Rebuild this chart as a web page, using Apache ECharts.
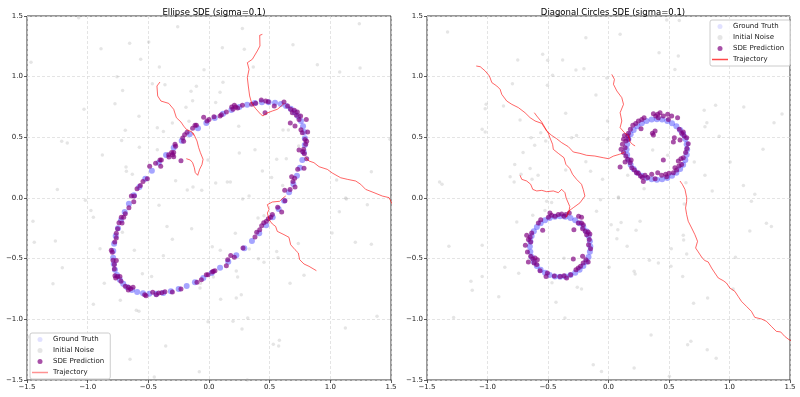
<!DOCTYPE html>
<html>
<head>
<meta charset="utf-8">
<script src="https://cdn.jsdelivr.net/npm/echarts@6/dist/echarts.min.js"></script>
<style>
  html, body { margin: 0; padding: 0; background: #fff; }
  #main { width: 800px; height: 397px; }
</style>
</head>
<body>
<div id="main"></div>
<script>
// tick values shared by both panels
var ticks = [-1.5, -1.0, -0.5, 0.0, 0.5, 1.0, 1.5];

// ---- Ellipse panel ----
var ellipseTruth = [
  [.707,.707],[.674,.735],[.635,.758],[.592,.775],[.544,.785],[.492,.790],[.436,.789],[.377,.782],[.314,.769],[.25,.75],
  [.184,.725],[.116,.695],[.047,.660],[-.022,.619],[-.091,.574],[-.159,.525],[-.225,.471],[-.291,.414],[-.354,.354],[-.414,.291],
  [-.471,.225],[-.525,.159],[-.574,.091],[-.619,.022],[-.660,-.047],[-.695,-.116],[-.725,-.184],[-.75,-.25],[-.769,-.314],[-.782,-.377],
  [-.789,-.436],[-.790,-.492],[-.785,-.544],[-.775,-.592],[-.758,-.635],[-.735,-.674],[-.707,-.707],[-.674,-.735],[-.635,-.758],[-.592,-.775],
  [-.544,-.785],[-.492,-.790],[-.436,-.789],[-.377,-.782],[-.314,-.769],[-.25,-.75],[-.184,-.725],[-.116,-.695],[-.047,-.660],[.022,-.619],
  [.091,-.574],[.159,-.525],[.225,-.471],[.291,-.414],[.354,-.354],[.414,-.291],[.471,-.225],[.525,-.159],[.574,-.091],[.619,-.022],
  [.660,.047],[.695,.116],[.725,.184],[.75,.25],[.769,.314],[.782,.377],[.789,.436],[.790,.492],[.785,.544],[.775,.592],
  [.758,.635],[.735,.674]
];

var ellipseNoise = [
  [-1.074,1.486],[-0.258,1.412],[-0.497,1.286],[-0.654,1.275],[-0.890,1.231],[-1.467,1.118],[-0.563,1.143],[-0.409,1.080],[-0.041,1.058],[-0.758,1.0],
  [-0.467,0.942],[-0.363,0.934],[-0.104,0.920],[-0.712,0.887],[-0.148,0.879],[-0.135,0.802],[-0.775,0.777],[-0.190,0.747],[-1.030,0.731],[-0.577,0.673],
  [-0.302,0.618],[-0.165,0.632],[-0.426,0.580],[-0.376,0.549],[-0.690,0.558],[-1.214,0.467],[-1.168,0.453],[-0.720,0.473],[-0.574,0.418],[-0.426,0.398],
  [-0.879,0.354],[-0.008,0.313],[-0.684,0.256],[-0.681,0.220],[-0.632,0.195],[-0.275,0.143],[-0.132,0.091],[-0.179,0.066],[-0.060,0.063],[-1.250,0.071],
  [0.275,1.398],[1.239,1.437],[0.110,1.239],[0.291,1.225],[0.692,1.264],[0.365,1.080],[0.893,1.099],[1.077,1.038],[1.245,1.071],[0.115,0.953],
  [0.091,0.871],[0.055,0.788],[0.245,0.591],[0.610,0.560],[0.654,0.560],[0.739,0.429],[1.492,0.484],[0.250,0.371],[0.379,0.398],[0.558,0.319],
  [0.637,0.324],[0.440,0.222],[0.516,0.168],[1.338,0.217],[1.052,0.148],[0.055,0.124],[0.151,0.132],[0.176,0.132],[0.607,0.104],[0.330,0.016],[1.126,0.0],
  [-1.019,-0.019],[-0.973,-0.104],[-1.451,-0.192],[-0.953,-0.159],[-0.412,-0.060],[-0.346,-0.234],[-0.143,-0.253],[-0.714,-0.283],[-1.440,-0.365],[-1.266,-0.354],
  [-0.898,-0.418],[-0.615,-0.431],[-0.302,-0.341],[-0.376,-0.475],[-1.209,-0.574],[-1.286,-0.706],[-0.863,-0.703],[-0.549,-0.624],[-0.473,-0.648],[-0.071,-0.703],
  [-0.074,-0.742],[-0.731,-0.843],[-0.953,-0.876],[-0.599,-0.926],[-0.577,-0.934],[-0.008,-1.019],[-1.492,-1.146],[-0.357,-1.220],[-0.651,-1.330],[-0.080,-1.431],[-0.451,-1.475],
  [0.277,-0.008],[1.132,-0.008],[1.305,-0.055],[1.074,-0.113],[0.453,-0.146],[0.404,-0.165],[0.217,-0.291],[1.014,-0.288],[0.027,-0.401],[0.093,-0.431],
  [0.332,-0.420],[0.558,-0.440],[0.736,-0.374],[1.206,-0.365],[1.338,-0.382],[0.569,-0.492],[0.407,-0.500],[0.453,-0.530],[0.225,-0.602],[0.236,-0.651],
  [0.036,-0.651],[0.783,-0.637],[0.668,-0.703],[0.266,-0.797],[0.225,-0.824],[0.096,-0.835],[0.319,-0.989],[0.198,-1.016],[0.272,-1.080],[1.385,-0.975],
  [1.124,-1.071],[0.580,-1.173],[0.530,-1.206],[0.574,-1.220],[0.316,-1.5]
];

var ellipsePred = [
  [-0.044,0.665],[-0.016,0.635],[-0.115,0.599],[-0.104,0.599],[-0.135,0.574],[-0.181,0.541],[-0.201,0.522],[-0.217,0.495],[-0.280,0.442],[-0.275,0.426],
  [-0.209,0.467],[-0.308,0.374],[-0.332,0.357],[-0.299,0.357],[-0.291,0.376],[-0.330,0.338],[-0.291,0.341],[-0.231,0.308],[-0.393,0.313],[-0.404,0.313],
  [-0.440,0.286],[-0.398,0.261],[-0.489,0.261],[-0.508,0.159],[-0.544,0.137],[-0.566,0.104],[-0.593,0.077],[-0.640,0.016],[-0.615,0.016],
  [0.041,0.670],[0.0,0.648],[0.102,0.687],[0.091,0.676],[0.143,0.709],[0.187,0.750],[0.220,0.750],[0.198,0.731],[0.236,0.742],[0.209,0.764],
  [0.275,0.764],[0.352,0.772],[0.385,0.780],[0.431,0.808],[0.467,0.799],[0.489,0.794],[0.462,0.703],[0.538,0.758],[0.618,0.791],[0.648,0.758],
  [0.673,0.731],[0.703,0.723],[0.687,0.703],[0.728,0.709],[0.720,0.681],[0.755,0.676],[0.742,0.648],[0.802,0.648],[0.670,0.618],[0.709,0.593],
  [0.758,0.563],[0.769,0.538],[0.813,0.544],[0.791,0.483],[0.805,0.467],[0.797,0.442],[0.742,0.396],[0.780,0.401],[0.786,0.365],[0.772,0.382],
  [0.805,0.324],[0.783,0.245],[0.731,0.236],[0.681,0.176],[0.706,0.162],[0.692,0.135],[0.709,0.091],[0.668,0.071],[0.624,0.063],
  [-0.62,-0.03],[-0.66,-0.08],[-0.69,-0.13],
  [-0.723,-0.159],[-0.703,-0.159],[-0.742,-0.203],[-0.717,-0.206],[-0.753,-0.253],[-0.764,-0.291],[-0.777,-0.363],[-0.764,-0.330],[-0.805,-0.431],[-0.797,-0.448],
  [-0.791,-0.514],[-0.780,-0.549],[-0.764,-0.516],[-0.780,-0.585],[-0.775,-0.640],[-0.753,-0.648],[-0.734,-0.646],[-0.769,-0.659],[-0.725,-0.687],[-0.690,-0.728],
  [-0.662,-0.736],[-0.646,-0.747],[-0.626,-0.736],[-0.665,-0.758],[-0.530,-0.797],[-0.519,-0.805],[-0.464,-0.777],[-0.434,-0.797],[-0.415,-0.783],[-0.390,-0.780],
  [-0.363,-0.772],[-0.302,-0.775],[-0.231,-0.750],[-0.099,-0.695],[-0.063,-0.673],[-0.022,-0.632],[-0.008,-0.632],
  [0.036,-0.604],[0.049,-0.599],[0.027,-0.610],[0.143,-0.558],[0.154,-0.508],[0.179,-0.473],[0.209,-0.489],[0.280,-0.412],[0.379,-0.321],[0.393,-0.283],
  [0.418,-0.261],[0.434,-0.228],[0.451,-0.203],[0.473,-0.192],[0.489,-0.170],[0.508,-0.159],[0.522,-0.137],[0.566,-0.077],[0.626,-0.022],[0.599,-0.115]
];

var ellipseTraj = [
  [[-0.404,0.956],[-0.429,0.923],[-0.423,0.841],[-0.396,0.799],[-0.332,0.780],[-0.291,0.731],[-0.269,0.662],[-0.231,0.626],[-0.209,0.593],[-0.187,0.566],[-0.140,0.544],[-0.126,0.516]],
  [[-0.187,0.324],[-0.154,0.313],[-0.135,0.291],[-0.121,0.250],[-0.113,0.209],[-0.093,0.187],[-0.077,0.237],[-0.058,0.275],[-0.049,0.319],[-0.071,0.374],[-0.085,0.415],[-0.099,0.470],[-0.118,0.511],[-0.132,0.538]],
  [[0.440,1.349],[0.418,1.341],[0.420,1.253],[0.398,1.212],[0.357,1.143],[0.316,1.115],[0.330,1.060],[0.316,0.992],[0.324,0.923],[0.335,0.841],[0.352,0.780],[0.385,0.736],[0.426,0.690],[0.445,0.676],[0.473,0.698],[0.522,0.717],[0.563,0.731],[0.591,0.753],[0.618,0.780]],
  [[1.52,-0.07],[1.484,0.003],[1.429,0.016],[1.360,0.044],[1.291,0.071],[1.250,0.113],[1.209,0.140],[1.140,0.154],[1.085,0.167],[1.016,0.206],[0.975,0.236],[0.907,0.258],[0.865,0.291],[0.824,0.305],[0.797,0.332]],
  [[0.885,-0.599],[0.824,-0.563],[0.783,-0.544],[0.747,-0.508],[0.736,-0.453],[0.709,-0.426],[0.673,-0.385],[0.659,-0.324],[0.618,-0.302],[0.563,-0.275],[0.549,-0.234],[0.522,-0.214],[0.495,-0.179],[0.481,-0.124],[0.495,-0.096],[0.481,-0.055],[0.522,-0.033],[0.582,-0.027],[0.610,0.0],[0.632,0.016]]
];

// ---- Diagonal circles panel ----
var circlesTruth = [
  [.65,.40],[.646,.443],[.635,.486],[.617,.525],[.592,.561],[.561,.592],[.525,.617],[.486,.635],[.443,.646],[.40,.65],
  [.357,.646],[.314,.635],[.275,.617],[.239,.592],[.208,.561],[.183,.525],[.165,.486],[.154,.443],[.15,.40],[.154,.357],
  [.165,.314],[.183,.275],[.208,.239],[.239,.208],[.275,.183],[.314,.165],[.357,.154],[.40,.15],[.443,.154],[.486,.165],
  [.525,.183],[.561,.208],[.592,.239],[.617,.275],[.635,.314],[.646,.357],
  [-.15,-.40],[-.154,-.357],[-.165,-.314],[-.183,-.275],[-.208,-.239],[-.239,-.208],[-.275,-.183],[-.314,-.165],[-.357,-.154],[-.40,-.15],
  [-.443,-.154],[-.486,-.165],[-.525,-.183],[-.561,-.208],[-.592,-.239],[-.617,-.275],[-.635,-.314],[-.646,-.357],[-.65,-.40],[-.646,-.443],
  [-.635,-.486],[-.617,-.525],[-.592,-.561],[-.561,-.592],[-.525,-.617],[-.486,-.635],[-.443,-.646],[-.40,-.65],[-.357,-.646],[-.314,-.635],
  [-.275,-.617],[-.239,-.592],[-.208,-.561],[-.183,-.525],[-.165,-.486],[-.154,-.443]
];

var circlesNoise = [
  [-1.330,1.368],[-0.187,1.321],[-0.544,1.184],[-0.750,1.137],[-0.503,1.135],[-0.379,1.137],[-0.269,1.055],[-0.203,1.066],[-0.462,1.011],[-0.014,0.989],
  [-0.794,0.942],[-0.505,0.929],[-0.104,0.849],[-1.011,0.772],[-1.019,0.736],[-0.868,0.758],[-0.354,0.698],[-0.731,0.643],[-0.008,0.635],[-1.044,0.566],
  [-1.019,0.544],[-0.560,0.538],[-0.640,0.497],[-0.519,0.470],[-0.305,0.497],[-0.264,0.516],[-0.610,0.434],[-0.008,0.484],[-0.706,0.374],[-0.187,0.299],
  [-0.775,0.277],[-0.648,0.244],[-0.354,0.231],[-0.148,0.220],[-0.723,0.195],[-0.582,0.187],[-0.813,0.176],[-0.632,0.154],[-0.780,0.132],[-1.396,0.132],
  [-1.376,0.113],[-0.049,0.154],
  [0.481,1.467],[0.585,1.462],[0.096,1.349],[0.418,1.198],[0.577,1.170],[0.549,1.060],[0.885,0.764],[1.118,0.750],[0.791,0.723],[1.434,0.692],
  [0.813,0.621],[0.797,0.588],[1.368,0.621],[0.915,0.508],[1.277,0.401],[0.709,0.297],[1.005,0.297],[0.797,0.187],[1.115,0.104],[0.857,0.058],
  [1.209,0.030],[0.640,0.126],[0.489,0.352],[0.365,0.396],[0.159,0.187],[0.294,0.077],[0.082,0.008],
  [-0.511,-0.027],[-0.470,-0.038],[-0.525,-0.104],[-0.626,-0.143],[-0.758,-0.198],[-0.099,-0.110],[-0.066,-0.014],[-1.319,-0.398],[-1.044,-0.390],[-0.368,-0.497],
  [-0.857,-0.571],[-0.742,-0.621],[-1.044,-0.648],[-1.137,-0.687],[-1.126,-0.761],[-0.467,-0.698],[-0.258,-0.736],[-0.223,-0.750],[-0.907,-0.813],[-0.434,-0.860],
  [-1.280,-0.984],[-0.360,-0.989],[-0.126,-1.374],[-0.058,-1.429],
  [0.082,0.0],[0.022,-0.220],[0.104,-0.201],[0.077,-0.261],[0.261,-0.192],[0.228,-0.266],[0.069,-0.335],[0.154,-0.398],[0.618,-0.308],[0.621,-0.346],
  [0.519,-0.418],[0.646,-0.462],[0.626,-0.049],[1.181,-0.027],[1.305,-0.209],[1.346,-0.234],[1.168,-0.272],[1.049,-0.489],[0.338,-0.514],[0.412,-0.536],
  [0.005,-0.571],[0.212,-0.604],[0.220,-0.626],[0.516,-0.563],[0.613,-0.648],[1.030,-0.750],[0.819,-0.824],[0.703,-0.868],[0.352,-1.129],[0.681,-1.181],
  [0.654,-1.209],[0.816,-1.250],[0.890,-1.321],[0.212,-1.401],[0.503,-1.470]
];

var circlesPred = [
  [0.371,0.695],[0.390,0.676],[0.407,0.690],[0.426,0.703],[0.453,0.676],[0.489,0.690],[0.522,0.676],[0.571,0.662],[0.495,0.648],[0.412,0.662],
  [0.294,0.662],[0.275,0.648],[0.247,0.635],[0.225,0.615],[0.201,0.599],[0.269,0.571],[0.181,0.566],[0.165,0.533],[0.159,0.511],[0.132,0.516],
  [0.124,0.484],[0.143,0.470],[0.165,0.484],[0.115,0.442],[0.137,0.415],[0.104,0.401],[0.124,0.374],[0.143,0.346],[0.159,0.319],[0.137,0.297],
  [0.179,0.291],[0.187,0.313],[0.096,0.255],[0.192,0.250],[0.214,0.231],[0.231,0.209],[0.247,0.203],[0.264,0.181],[0.280,0.168],[0.302,0.187],
  [0.324,0.168],[0.357,0.195],[0.385,0.159],[0.407,0.209],[0.440,0.187],[0.473,0.195],[0.481,0.176],[0.500,0.203],[0.536,0.209],[0.563,0.231],
  [0.288,0.135],[0.363,0.533],[0.385,0.552],[0.371,0.519],[0.453,0.313],[0.536,0.462],[0.591,0.478],[0.585,0.566],[0.604,0.533],[0.626,0.511],
  [0.618,0.544],[0.646,0.497],[0.659,0.448],[0.648,0.407],[0.637,0.374],[0.618,0.332],[0.599,0.324],[0.604,0.277],[0.582,0.264],[0.549,0.250],
  [0.577,0.305],[0.544,0.497],
  [-0.484,-0.124],[-0.470,-0.143],[-0.442,-0.151],[-0.415,-0.137],[-0.387,-0.132],[-0.368,-0.151],[-0.352,-0.137],[-0.324,-0.124],[-0.497,-0.159],[-0.560,-0.179],
  [-0.580,-0.206],[-0.544,-0.266],[-0.247,-0.151],[-0.223,-0.159],[-0.250,-0.206],[-0.223,-0.206],[-0.286,-0.261],[-0.635,-0.288],[-0.648,-0.324],[-0.676,-0.308],
  [-0.662,-0.343],[-0.643,-0.363],[-0.687,-0.390],[-0.670,-0.445],[-0.643,-0.481],[-0.626,-0.503],[-0.607,-0.495],[-0.588,-0.508],[-0.615,-0.536],[-0.593,-0.549],
  [-0.662,-0.527],[-0.566,-0.599],[-0.516,-0.646],[-0.505,-0.618],[-0.448,-0.643],[-0.401,-0.646],[-0.368,-0.640],[-0.346,-0.659],[-0.313,-0.632],[-0.269,-0.591],
  [-0.250,-0.577],[-0.231,-0.563],[-0.209,-0.536],[-0.187,-0.508],[-0.168,-0.527],[-0.214,-0.481],[-0.291,-0.503],[-0.148,-0.418],[-0.165,-0.385],[-0.159,-0.343],
  [-0.181,-0.302],[-0.192,-0.275],[-0.168,-0.280],[-0.154,-0.297],[-0.214,-0.253],[-0.209,-0.220]
];

var circlesTraj = [
  [[-1.093,1.088],[-1.060,1.082],[-1.019,1.047],[-0.984,1.005],[-0.964,0.951],[-0.923,0.923],[-0.896,0.896],[-0.882,0.854],[-0.841,0.799],[-0.799,0.772],[-0.745,0.745],[-0.690,0.703],[-0.648,0.662],[-0.607,0.635],[-0.552,0.615],[-0.511,0.552],[-0.470,0.516],[-0.429,0.489],[-0.387,0.456],[-0.332,0.423],[-0.291,0.379],[-0.236,0.368],[-0.181,0.352],[-0.113,0.346],[-0.044,0.332],[0.0,0.324],[0.04,0.345],[0.09,0.36],[0.13,0.375]],
  [[-0.613,0.703],[-0.593,0.676],[-0.552,0.626],[-0.525,0.580],[-0.497,0.533],[-0.484,0.497],[-0.462,0.442],[-0.456,0.401],[-0.415,0.368],[-0.368,0.332],[-0.352,0.277],[-0.319,0.242],[-0.297,0.195],[-0.264,0.154],[-0.223,0.113],[-0.209,0.071],[-0.195,0.016],[-0.236,-0.04],[-0.291,-0.08],[-0.332,-0.11],[-0.35,-0.16]],
  [[-0.731,0.187],[-0.717,0.154],[-0.676,0.140],[-0.643,0.113],[-0.626,0.071],[-0.593,0.058],[-0.552,0.063],[-0.511,0.052],[-0.456,0.058],[-0.415,0.044],[-0.387,0.071],[-0.360,0.044],[-0.35,0.0],[-0.32,-0.07],[-0.33,-0.13]],
  [[0.027,1.019],[0.049,0.978],[0.041,0.937],[0.069,0.882],[0.110,0.827],[0.124,0.772],[0.096,0.703],[0.110,0.635],[0.096,0.580],[0.132,0.538],[0.165,0.511],[0.179,0.462],[0.198,0.442],[0.220,0.429]],
  [[1.52,-1.18],[1.492,-1.168],[1.456,-1.140],[1.423,-1.104],[1.387,-1.099],[1.346,-1.058],[1.305,-1.016],[1.264,-0.997],[1.209,-0.984],[1.181,-0.934],[1.140,-0.893],[1.099,-0.852],[1.071,-0.810],[1.044,-0.769],[1.003,-0.742],[0.975,-0.701],[0.948,-0.681],[0.907,-0.659],[0.879,-0.618],[0.852,-0.577],[0.824,-0.527],[0.797,-0.516],[0.775,-0.495],[0.742,-0.445],[0.720,-0.412],[0.736,-0.357],[0.714,-0.302],[0.687,-0.247],[0.659,-0.192],[0.646,-0.137],[0.637,-0.082],[0.646,-0.027],[0.646,0.003],[0.632,0.071],[0.610,0.113],[0.591,0.140]]
];

var FONT = 'DejaVu Sans';
var myChart = echarts.init(document.getElementById('main'), null, { renderer: 'canvas' });

function fmt(v) {
  return (v < 0 ? '\u2212' : '') + Math.abs(v).toFixed(1);
}

function makeAxis(idx) {
  return {
    type: 'value', gridIndex: idx, min: -1.5, max: 1.5, interval: 0.5,
    axisLine: { show: false, onZero: false },
    axisTick: { show: true, length: 3, lineStyle: { color: '#333', width: 0.8 } },
    axisLabel: { fontFamily: FONT, fontSize: 7, color: '#222', margin: 4, formatter: fmt },
    splitLine: { show: true, lineStyle: { color: '#d8d8d8', type: [3, 2], width: 0.7 } }
  };
}

function panelSeries(idx, truth, noise, pred, traj) {
  var out = [
    { name: 'Ground Truth', type: 'scatter', xAxisIndex: idx, yAxisIndex: idx, data: truth,
      symbolSize: 6, itemStyle: { color: 'rgba(30,30,255,0.5)' }, silent: true },
    { name: 'Initial Noise', type: 'scatter', xAxisIndex: idx, yAxisIndex: idx, data: noise,
      symbolSize: 3.5, itemStyle: { color: 'rgba(160,160,160,0.35)' }, silent: true },
    { name: 'SDE Prediction', type: 'scatter', xAxisIndex: idx, yAxisIndex: idx, data: pred,
      symbolSize: 5, itemStyle: { color: 'rgba(128,0,128,0.85)' }, silent: true }
  ];
  traj.forEach(function (t) {
    out.push({ name: 'Trajectory', type: 'line', xAxisIndex: idx, yAxisIndex: idx, data: t,
      symbol: 'none', itemStyle: { color: 'rgba(255,0,0,0.6)' },
      lineStyle: { color: 'rgba(255,0,0,0.6)', width: 1 }, silent: true });
  });
  return out;
}

function makeLegend(left, top, trajColor) {
  return {
    left: left, top: top,
    orient: 'vertical', itemWidth: 16, itemHeight: 5, itemGap: 4,
    padding: [3, 6, 3, 2], backgroundColor: 'rgba(255,255,255,0.8)',
    borderColor: '#cccccc', borderWidth: 1, borderRadius: 2,
    textStyle: { fontFamily: FONT, fontSize: 7, color: '#222' },
    data: [
      { name: 'Ground Truth', icon: 'circle', itemStyle: { color: 'rgba(0,0,255,0.15)' } },
      { name: 'Initial Noise', icon: 'circle', itemStyle: { color: 'rgba(160,160,160,0.35)' } },
      { name: 'SDE Prediction', icon: 'circle', itemStyle: { color: 'rgba(128,0,128,0.85)' } },
      { name: 'Trajectory', icon: 'path://M0,0 L32,0 L32,3 L0,3 Z', itemStyle: { color: trajColor } }
    ]
  };
}

myChart.setOption({
  animation: false,
  backgroundColor: '#fff',
  title: [
    { text: 'Ellipse SDE (sigma=0.1)', left: 209, top: 3, textAlign: 'center',
      textStyle: { fontFamily: FONT, fontSize: 8.5, fontWeight: 'normal', color: '#000' } },
    { text: 'Diagonal Circles SDE (sigma=0.1)', left: 608, top: 3, textAlign: 'center',
      textStyle: { fontFamily: FONT, fontSize: 8.5, fontWeight: 'normal', color: '#000' } }
  ],
  legend: [
    makeLegend(30, 333, 'rgba(255,110,110,0.75)'),
    makeLegend(710, 20, 'rgba(255,40,40,0.85)')
  ],
  grid: [
    { left: 27, top: 16, width: 364, height: 364, show: true, borderColor: '#333', borderWidth: 1, backgroundColor: 'transparent' },
    { left: 427, top: 16, width: 363, height: 364, show: true, borderColor: '#333', borderWidth: 1, backgroundColor: 'transparent' }
  ],
  xAxis: [makeAxis(0), makeAxis(1)],
  yAxis: [makeAxis(0), makeAxis(1)],
  series: panelSeries(0, ellipseTruth, ellipseNoise, ellipsePred, ellipseTraj)
    .concat(panelSeries(1, circlesTruth, circlesNoise, circlesPred, circlesTraj))
});
</script>
</body>
</html>
